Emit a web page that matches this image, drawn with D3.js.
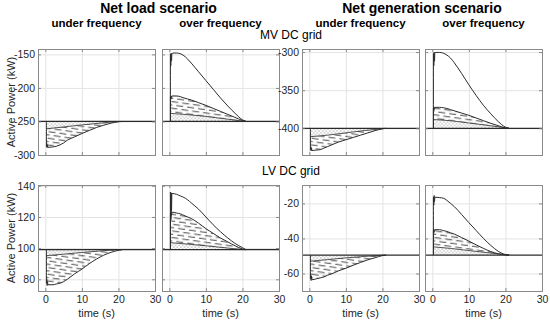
<!DOCTYPE html>
<html><head><meta charset="utf-8">
<script src="https://cdn.jsdelivr.net/npm/d3@7"></script>
<style>
body{margin:0;background:#fff}
text{font-family:"Liberation Sans",Arial,Helvetica,sans-serif}
</style>
</head><body>
<svg id="c" width="550" height="323"></svg>
<script>
// ---------------- DATA ----------------
const xDomain = [-2, 30];
const xTicks = [0, 10, 20, 30];
const tOuter = [0.3, 0.4, 0.5, 0.6, 0.7, 1, 2, 3, 4, 5, 6, 8, 10, 12, 14, 16, 18, 20, 21];
const tInner = [0.3, 5, 10, 15, 20, 21];

const columnTitles = ["under frequency", "over frequency", "under frequency", "over frequency"];
const scenarioTitles = ["Net load scenario", "Net generation scenario"];
const rowTitles = ["MV DC grid", "LV DC grid"];
const yAxisLabel = "Active Power (kW)";
const xAxisLabel = "time (s)";

// MV DC grid, net load
const mvLoadDomain = [-300, -142];
const mvLoadTicks = [-300, -250, -200, -150];
const mvLoadBase = -250;
const mvLoadUnderOuter = [-288, -283, -289, -285, -288.5, -288.5, -288, -287, -285, -282, -278, -273, -268, -263.5, -259, -255.5, -252.5, -250.5, -250];
const mvLoadUnderInner = [-261, -258.2, -255.2, -252.5, -250.2, -250];
const mvLoadOverOuter = [-150, -167, -148, -160, -150, -148, -148, -149, -152, -157, -163, -176, -189, -202, -215, -227, -238, -247.5, -250];
const mvLoadOverMid = [-214, -217, -212, -215, -212, -212, -212, -213, -215, -216.5, -218, -222, -226, -230.5, -235, -239.5, -244, -248.5, -250];
const mvLoadOverInner = [-238, -239.8, -242.5, -245.9, -249.4, -250];

// MV DC grid, net generation
const mvGenDomain = [-435, -296];
const mvGenTicks = [-400, -350, -300];
const mvGenBase = -400;
const mvGenUnderOuter = [-428, -424, -429.5, -426, -429, -429, -428.5, -428, -426, -424, -422, -418, -415, -412, -409, -406, -403, -400.7, -400];
const mvGenUnderInner = [-411, -409, -406, -403, -400.5, -400];
const mvGenOverOuter = [-302, -318, -300, -312, -301, -300.5, -300.5, -301.5, -304, -308, -314, -328, -343, -357, -370, -381, -391, -398.5, -400];
const mvGenOverMid = [-374, -377, -372.5, -375, -372.5, -372.5, -372.5, -373, -374, -375.5, -377, -380, -383, -386.5, -390, -393.5, -396.5, -399.5, -400];
const mvGenOverInner = [-388.5, -390.1, -393, -396.1, -399.3, -400];

// LV DC grid, net load
const lvLoadDomain = [72.5, 140.5];
const lvLoadTicks = [80, 100, 120, 140];
const lvLoadBase = 99;
const lvLoadUnderOuter = [77.5, 80, 76, 78.5, 76.5, 76.5, 76.5, 77, 77.5, 78.5, 80, 83.5, 86.5, 90, 93, 95.5, 97.3, 98.6, 99];
const lvLoadUnderInner = [95.2, 96.1, 97.2, 98.2, 98.95, 99];
const lvLoadOverOuter = [136, 118, 135.5, 124, 135, 135, 134.5, 133.5, 132.5, 131, 129, 125, 120, 115, 110.5, 106.5, 103, 100.3, 99];
const lvLoadOverMid = [122, 119, 123.5, 121, 123, 123, 122.5, 122, 121, 120, 119, 116, 112.5, 109.5, 106.5, 104, 101.5, 99.5, 99];
const lvLoadOverInner = [103.5, 102.6, 101.5, 100.3, 99.15, 99];

// LV DC grid, net generation
const lvGenDomain = [-70, -9.5];
const lvGenTicks = [-60, -40, -20];
const lvGenBase = -49.5;
const lvGenUnderOuter = [-63, -60, -64, -61.5, -63.5, -63.5, -63, -62.5, -62, -61, -60.3, -58.5, -57, -55.3, -53.7, -52.2, -51, -49.8, -49.5];
const lvGenUnderInner = [-53, -52.1, -51.1, -50.3, -49.6, -49.5];
const lvGenOverOuter = [-16.5, -21, -15.5, -19, -16.5, -16.5, -16.7, -17, -18.3, -20, -21.8, -26.3, -31, -35.5, -40, -44, -47.3, -49.2, -49.5];
const lvGenOverMid = [-35.5, -37, -35, -36, -35, -35, -35, -35.5, -36, -36.8, -37.5, -39.5, -41.5, -43.7, -45.7, -47.5, -48.7, -49.4, -49.5];
const lvGenOverInner = [-44.8, -45.7, -46.9, -48.1, -49.3, -49.5];

// ---------------- LAYOUT ----------------
const colX = [38, 162, 302, 425];
const rowY = [49, 185];
const PW = 117, PH = 106;
const lineColor = "#2b2b2b";
const textColor = "#262626";
const fmt = d => String(d);

const panels = [
  {row:0, col:0, domain:mvLoadDomain, ticks:mvLoadTicks, base:mvLoadBase, outer:mvLoadUnderOuter, mid:null, inner:mvLoadUnderInner},
  {row:0, col:1, domain:mvLoadDomain, ticks:mvLoadTicks, base:mvLoadBase, outer:mvLoadOverOuter, mid:mvLoadOverMid, inner:mvLoadOverInner},
  {row:0, col:2, domain:mvGenDomain, ticks:mvGenTicks, base:mvGenBase, outer:mvGenUnderOuter, mid:null, inner:mvGenUnderInner},
  {row:0, col:3, domain:mvGenDomain, ticks:mvGenTicks, base:mvGenBase, outer:mvGenOverOuter, mid:mvGenOverMid, inner:mvGenOverInner},
  {row:1, col:0, domain:lvLoadDomain, ticks:lvLoadTicks, base:lvLoadBase, outer:lvLoadUnderOuter, mid:null, inner:lvLoadUnderInner},
  {row:1, col:1, domain:lvLoadDomain, ticks:lvLoadTicks, base:lvLoadBase, outer:lvLoadOverOuter, mid:lvLoadOverMid, inner:lvLoadOverInner},
  {row:1, col:2, domain:lvGenDomain, ticks:lvGenTicks, base:lvGenBase, outer:lvGenUnderOuter, mid:null, inner:lvGenUnderInner},
  {row:1, col:3, domain:lvGenDomain, ticks:lvGenTicks, base:lvGenBase, outer:lvGenOverOuter, mid:lvGenOverMid, inner:lvGenOverInner},
];

const svg = d3.select("#c");
const defs = svg.append("defs");

// hatch pattern: short dashes
const hatch = defs.append("pattern").attr("id","hatch").attr("patternUnits","userSpaceOnUse")
  .attr("width",11).attr("height",6.6).attr("patternTransform","rotate(8)");
[[0,1.2,7,1.2],[5.5,4.5,12.5,4.5],[-5.5,4.5,1.5,4.5]].forEach(d=>{
  hatch.append("line").attr("x1",d[0]).attr("y1",d[1]).attr("x2",d[2]).attr("y2",d[3])
    .attr("stroke","#333").attr("stroke-width",0.9);
});
// dotted pattern
const dots = defs.append("pattern").attr("id","dots").attr("patternUnits","userSpaceOnUse")
  .attr("width",3.6).attr("height",3.6);
dots.append("rect").attr("width",3.6).attr("height",3.6).attr("fill","#fff");
dots.append("circle").attr("cx",0.9).attr("cy",0.9).attr("r",0.55).attr("fill","#555");
dots.append("circle").attr("cx",2.7).attr("cy",2.7).attr("r",0.55).attr("fill","#555");

panels.forEach((p,i)=>{
  const x0 = colX[p.col], y0 = rowY[p.row];
  const x = d3.scaleLinear().domain(xDomain).range([0,PW]);
  const y = d3.scaleLinear().domain(p.domain).range([PH,0]);
  const g = svg.append("g").attr("transform",`translate(${x0},${y0})`);
  defs.append("clipPath").attr("id","clip"+i).append("rect").attr("width",PW).attr("height",PH);

  // grid
  g.append("g").call(d3.axisBottom(x).tickValues(xTicks).tickSize(PH).tickFormat(""))
    .call(a=>{a.select(".domain").remove(); a.selectAll("line").attr("stroke","#e3e3e3");});
  g.append("g").call(d3.axisRight(y).tickValues(p.ticks).tickSize(PW).tickFormat(""))
    .call(a=>{a.select(".domain").remove(); a.selectAll("line").attr("stroke","#e3e3e3");});

  const body = g.append("g").attr("clip-path",`url(#clip${i})`);
  const outerPts = tOuter.map((t,k)=>[t,p.outer[k]]);
  const areaTop = p.mid ? p.mid : p.outer;
  const areaPts = tOuter.map((t,k)=>[t,areaTop[k]]);
  const innerPts = tInner.map((t,k)=>[t,p.inner[k]]);

  const area = d3.area().x(d=>x(d[0])).y0(y(p.base)).y1(d=>y(d[1])).curve(d3.curveMonotoneX);
  body.append("path").attr("d",area(areaPts)).attr("fill","url(#hatch)");
  body.append("path").attr("d",area(innerPts)).attr("fill","url(#dots)");

  const line = d3.line().x(d=>x(d[0])).y(d=>y(d[1])).curve(d3.curveMonotoneX);
  const withStart = pts => [[pts[0][0], p.base]].concat(pts);
  body.append("path").attr("d",line(withStart(outerPts))).attr("fill","none")
    .attr("stroke",lineColor).attr("stroke-width",1);
  if (p.mid) {
    body.append("path").attr("d",line(withStart(areaPts))).attr("fill","none")
      .attr("stroke",lineColor).attr("stroke-width",1);
  }
  body.append("path").attr("d",line(innerPts)).attr("fill","none")
    .attr("stroke",lineColor).attr("stroke-width",0.8);
  // baseline
  body.append("path").attr("d",line([[xDomain[0],p.base],[xDomain[1],p.base]]))
    .attr("stroke",lineColor).attr("stroke-width",1.2).attr("fill","none");

  // frame
  g.append("rect").attr("width",PW).attr("height",PH).attr("fill","none")
    .attr("stroke","#8a8a8a").attr("stroke-width",1).attr("shape-rendering","crispEdges");

  // axes ticks (inward) + labels
  const showY = (p.col===0 || p.col===2);
  const yAx = d3.axisLeft(y).tickValues(p.ticks).tickSizeInner(-3).tickSizeOuter(0).tickPadding(3).tickFormat(showY ? fmt : "");
  g.append("g").call(yAx).call(a=>{
    a.select(".domain").remove();
    a.selectAll("line").attr("stroke","#8a8a8a");
    a.selectAll("text").attr("fill",textColor).style("font-size","10.5px");
  });
  g.append("g").attr("transform",`translate(${PW},0)`).call(d3.axisRight(y).tickValues(p.ticks).tickSizeInner(-3).tickSizeOuter(0).tickFormat(""))
    .call(a=>{a.select(".domain").remove(); a.selectAll("line").attr("stroke","#8a8a8a");});
  const xAx = d3.axisBottom(x).tickValues(xTicks).tickSizeInner(-3).tickSizeOuter(0).tickPadding(5).tickFormat(p.row===0 ? "" : fmt);
  g.append("g").attr("transform",`translate(0,${PH})`).call(xAx).call(a=>{
    a.select(".domain").remove();
    a.selectAll("line").attr("stroke","#8a8a8a");
    a.selectAll("text").attr("fill",textColor).style("font-size","10.5px");
  });
  g.append("g").call(d3.axisTop(x).tickValues(xTicks).tickSizeInner(-3).tickSizeOuter(0).tickFormat(""))
    .call(a=>{a.select(".domain").remove(); a.selectAll("line").attr("stroke","#8a8a8a");});

  if (p.row===1) {
    g.append("text").attr("x",PW/2).attr("y",PH+26).attr("text-anchor","middle")
      .attr("fill",textColor).style("font-size","11px").text(xAxisLabel);
  }
  if (p.col===0) {
    g.append("text").attr("transform",`translate(-23.5,${PH/2}) rotate(-90)`).attr("text-anchor","middle")
      .attr("fill",textColor).style("font-size","11px").text(yAxisLabel);
  }
  if (p.row===0) {
    g.append("text").attr("x",PW/2).attr("y",-22.5).attr("text-anchor","middle")
      .attr("fill","#000").style("font-size","11.5px").style("font-weight","bold").text(columnTitles[p.col]);
  }
});

// scenario titles
[[colX[0], colX[1]+PW],[colX[2], colX[3]+PW]].forEach((r,k)=>{
  svg.append("text").attr("x",(r[0]+r[1])/2).attr("y",13).attr("text-anchor","middle")
    .attr("fill","#000").style("font-size","14px").style("font-weight","bold").text(scenarioTitles[k]);
});
// row titles
rowTitles.forEach((t,k)=>{
  svg.append("text").attr("x",291).attr("y",rowY[k]-10).attr("text-anchor","middle")
    .attr("fill","#000").style("font-size","12px").text(t);
});
</script>
</body></html>
